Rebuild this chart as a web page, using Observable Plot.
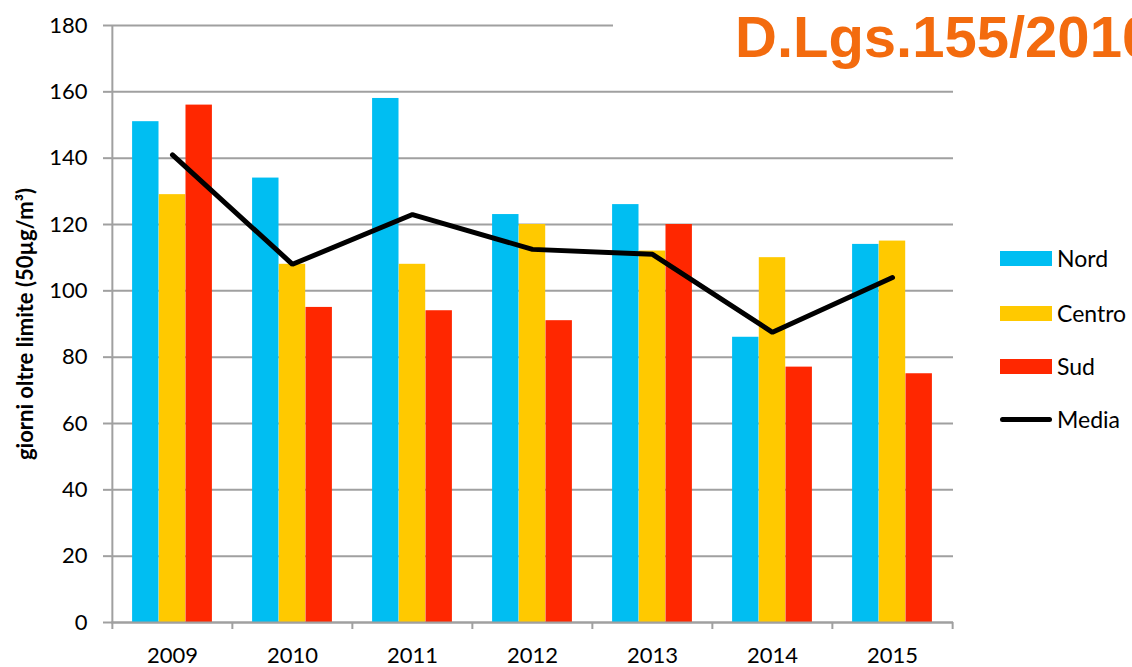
<!DOCTYPE html>
<html>
<head>
<meta charset="utf-8">
<script src="https://cdn.jsdelivr.net/npm/d3@7"></script>
<script src="https://cdn.jsdelivr.net/npm/@observablehq/plot@0.6"></script>
<style>
  html, body { margin: 0; padding: 0; background: #fff; overflow: hidden; width: 1132px; height: 667px; }
  #wrap { position: relative; width: 1132px; height: 667px; }
  #title { position: absolute; left: 613px; top: 0px; width: 519px; height: 74px; background: #fff;
           font-family: "Liberation Sans", Arial, sans-serif; font-weight: bold; font-size: 58px; color: #F36B0E;
           white-space: nowrap; overflow: hidden; box-sizing: border-box; padding-left: 122px; line-height: 74px; }
  #legend { position: absolute; left: 0; top: 0; font-family: Lato, sans-serif; font-size: 23px; color: #000; }
  .item { position: absolute; left: 1000px; height: 30px; display: flex; align-items: center; white-space: nowrap; }
  .sw { width: 52px; height: 15px; margin-right: 5px; }
  .ln { width: 52px; height: 5px; border-radius: 3px; background: #000; margin-right: 5px; }
</style>
</head>
<body>
<div id="wrap">
  <div id="chart"></div>
  <div id="title">D.Lgs.155/2010</div>
  <div id="legend"></div>
</div>
<script>
const years = ["2009", "2010", "2011", "2012", "2013", "2014", "2015"];
const nord = [151, 134, 158, 123, 126, 86, 114];
const centro = [129, 108, 108, 120, 112, 110, 115];
const sud = [156, 95, 94, 91, 120, 77, 75];
const media = [141, 108, 123, 112.5, 111, 87.5, 104];
const seriesNames = ["Nord", "Centro", "Sud", "Media"];
const colors = ["#00BEF2", "#FFC900", "#FF2700", "#000000"];
const yTicks = [0, 20, 40, 60, 80, 100, 120, 140, 160, 180];

const data = years.map((y, i) => ({year: y, Nord: nord[i], Centro: centro[i], Sud: sud[i], Media: media[i]}));

const W = 1132, H = 667, mL = 111, mR = 179, mT = 25, mB = 45;
const bw = (W - mL - mR) / years.length;
const barW = 26.7;
const inset = (bw - barW) / 2;
const grey = "#A0A0A0";

const chart = Plot.plot({
  width: W, height: H,
  marginLeft: mL, marginRight: mR, marginTop: mT, marginBottom: mB,
  style: {fontFamily: "Lato, sans-serif", fontSize: "22px", color: "#000", background: "#fff"},
  x: {type: "band", domain: years, padding: 0, label: null},
  y: {domain: [0, 180], label: null},
  marks: [
    Plot.gridY(yTicks, {stroke: grey, strokeOpacity: 1, strokeWidth: 2}),
    Plot.barY(data, {x: "year", y: "Nord", fill: colors[0], insetLeft: inset, insetRight: inset, dx: -barW}),
    Plot.barY(data, {x: "year", y: "Centro", fill: colors[1], insetLeft: inset, insetRight: inset}),
    Plot.barY(data, {x: "year", y: "Sud", fill: colors[2], insetLeft: inset, insetRight: inset, dx: barW}),
    Plot.ruleY([0], {stroke: grey, strokeWidth: 2}),
    Plot.ruleX([years[0]], {stroke: grey, strokeWidth: 2, dx: -bw / 2}),
    Plot.ruleX(years, {stroke: grey, strokeWidth: 2, dx: -bw / 2, insetTop: H - mT - mB, insetBottom: -7}),
    Plot.ruleX([years[years.length - 1]], {stroke: grey, strokeWidth: 2, dx: bw / 2, insetTop: H - mT - mB, insetBottom: -7}),
    Plot.lineY(data, {x: "year", y: "Media", stroke: colors[3], strokeWidth: 5, strokeLinecap: "round", strokeLinejoin: "miter"}),
    Plot.axisY(yTicks, {tickSize: 8, tickPadding: 16, stroke: grey, strokeWidth: 2, fill: "#000", fontSize: 22, label: null}),
    Plot.axisX({tickSize: 0, tickPadding: 25, fill: "#000", fontSize: 22, label: null}),
    Plot.text(["giorni oltre limite (50µg/m³)"], {
      frameAnchor: "left", textAnchor: "middle", dx: -86, dy: 0, rotate: -90, fontWeight: "bold", fontSize: 22, fill: "#000"
    })
  ]
});
document.getElementById("chart").appendChild(chart);

const legend = document.getElementById("legend");
const legY = [258, 313, 366, 419];
seriesNames.forEach((name, i) => {
  const it = document.createElement("div");
  it.className = "item";
  it.style.top = (legY[i] - 15) + "px";
  const sw = document.createElement("div");
  if (name === "Media") { sw.className = "ln"; }
  else { sw.className = "sw"; sw.style.background = colors[i]; }
  it.appendChild(sw);
  const t = document.createElement("span");
  t.textContent = name;
  it.appendChild(t);
  legend.appendChild(it);
});
</script>
</body>
</html>
